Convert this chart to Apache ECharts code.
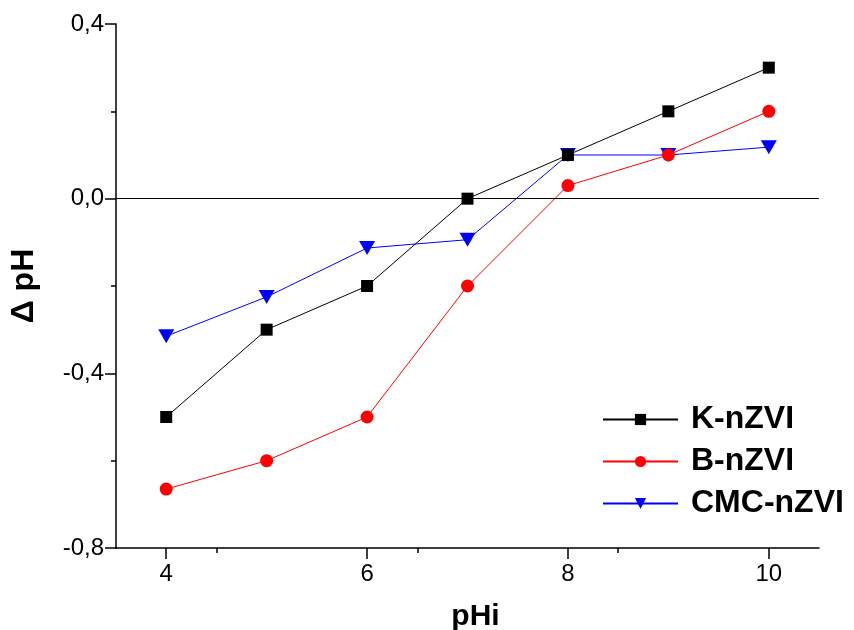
<!DOCTYPE html>
<html>
<head>
<meta charset="utf-8">
<script src="https://cdn.jsdelivr.net/npm/echarts@6/dist/echarts.min.js"></script>
<style>html,body{margin:0;padding:0;background:#fff;}#c{width:854px;height:630px;}</style>
</head>
<body>
<div id="c"></div>
<script>
var pHi = [4, 5, 6, 7, 8, 9, 10];
var kNZVI = [-0.5, -0.3, -0.2, 0.0, 0.1, 0.2, 0.3];
var bNZVI = [-0.665, -0.6, -0.5, -0.2, 0.03, 0.1, 0.2];
var cmcNZVI = [-0.315, -0.225, -0.113, -0.094, 0.1, 0.1, 0.118];
var seriesNames = ['K-nZVI', 'B-nZVI', 'CMC-nZVI'];
var xTicks = [4, 6, 8, 10];

function pairs(ys) { return pHi.map(function (x, i) { return [x, ys[i]]; }); }
function fmt(v) { return v.toFixed(1).replace('.', ','); }

var chart = echarts.init(document.getElementById('c'), null, {renderer: 'canvas'});
var font = '"Liberation Sans", Arial, sans-serif';
chart.setOption({
  animation: false,
  backgroundColor: '#fff',
  grid: {left: 116, right: 35, top: 24, bottom: 82, containLabel: false, outerBoundsMode: 'none'},
  legend: {
    orient: 'vertical', left: 597, top: 398,
    itemWidth: 75, itemHeight: 14, itemGap: 9,
    textStyle: {fontFamily: font, fontWeight: 'bold', fontSize: 32, lineHeight: 33, color: '#000', padding: [0, 0, 0, 8]},
    data: seriesNames
  },
  xAxis: {
    type: 'value', min: 3.5, max: 10.5, interval: 2,
    name: 'pHi', nameLocation: 'middle', nameGap: 54,
    nameTextStyle: {fontFamily: font, fontWeight: 'bold', fontSize: 30, color: '#000', padding: [0, 0, 0, 16]},
    axisLine: {show: true, onZero: false, lineStyle: {color: '#000', width: 1.5}},
    axisTick: {show: true, length: 11, lineStyle: {color: '#000', width: 1.5}, customValues: xTicks},
    minorTick: {show: true, splitNumber: 2, length: 5, lineStyle: {color: '#000', width: 1.5}},
    splitLine: {show: false},
    axisLabel: {fontFamily: font, fontSize: 24, color: '#000', margin: 14, customValues: xTicks}
  },
  yAxis: {
    type: 'value', min: -0.8, max: 0.4, interval: 0.4,
    name: 'Δ pH', nameLocation: 'middle', nameGap: 76,
    nameTextStyle: {fontFamily: font, fontWeight: 'bold', fontSize: 32, color: '#000'},
    axisLine: {show: true, onZero: false, lineStyle: {color: '#000', width: 1.5}},
    axisTick: {show: true, length: 11, lineStyle: {color: '#000', width: 1.5}},
    minorTick: {show: true, splitNumber: 2, length: 5, lineStyle: {color: '#000', width: 1.5}},
    splitLine: {show: false},
    axisLabel: {fontFamily: font, fontSize: 24, color: '#000', margin: 12, formatter: fmt}
  },
  series: [
    {
      name: seriesNames[0], type: 'line', data: pairs(kNZVI),
      symbol: 'rect', symbolSize: 12,
      itemStyle: {color: '#000'}, lineStyle: {color: '#000', width: 1},
      markLine: {
        silent: true, symbol: 'none', label: {show: false},
        lineStyle: {color: '#000', width: 1, type: 'solid'},
        data: [{yAxis: 0}]
      },
      z: 3
    },
    {
      name: seriesNames[1], type: 'line', data: pairs(bNZVI),
      symbol: 'circle', symbolSize: 13,
      itemStyle: {color: '#ff0000'}, lineStyle: {color: '#ff0000', width: 1},
      z: 2
    },
    {
      name: seriesNames[2], type: 'line', data: pairs(cmcNZVI),
      symbol: 'triangle', symbolRotate: 180, symbolSize: [16, 14],
      itemStyle: {color: '#0000ff'}, lineStyle: {color: '#0000ff', width: 1},
      z: 1
    }
  ]
});
</script>
</body>
</html>
